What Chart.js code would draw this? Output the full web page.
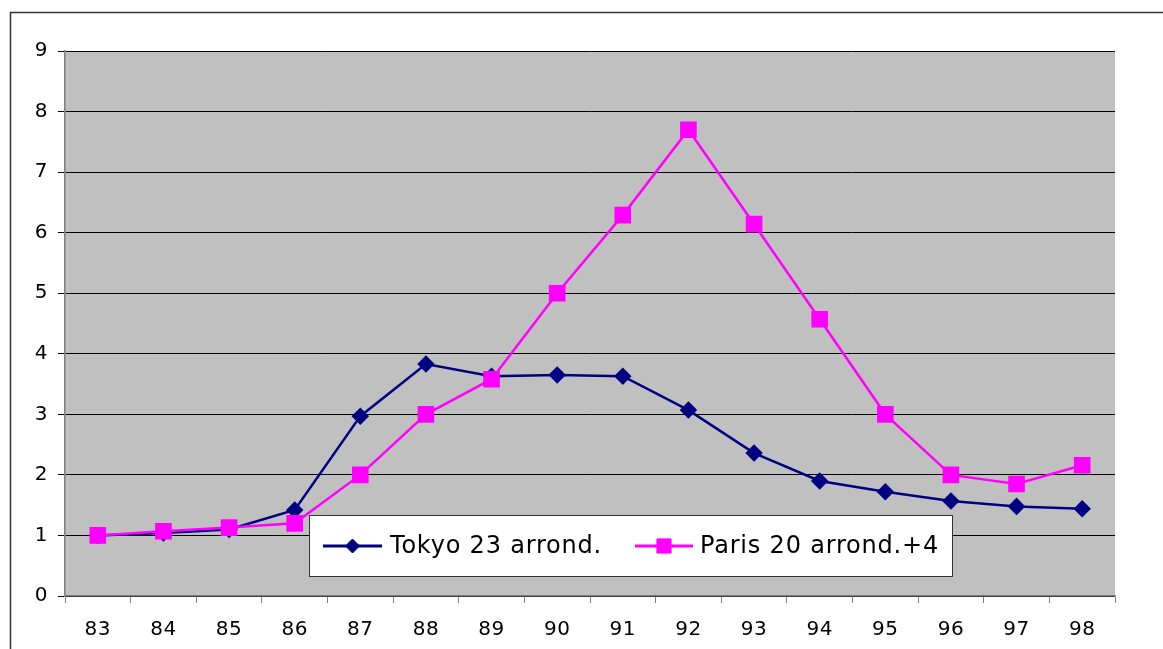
<!DOCTYPE html>
<html>
<head>
<meta charset="utf-8">
<script src="https://cdn.jsdelivr.net/npm/chart.js@4.4.1/dist/chart.umd.min.js"></script>
<style>
  html, body { margin: 0; padding: 0; background: #ffffff; }
  #wrap { width: 1163px; height: 649px; position: relative; }
  canvas { display: block; }
</style>
</head>
<body>
<div id="wrap"><canvas id="c" width="1163" height="649"></canvas></div>
<script>
const categories = ['83','84','85','86','87','88','89','90','91','92','93','94','95','96','97','98'];
const tokyoLabel = 'Tokyo 23 arrond.';
const tokyoValues = [1.00, 1.04, 1.10, 1.42, 2.97, 3.83, 3.63, 3.65, 3.63, 3.07, 2.36, 1.90, 1.72, 1.57, 1.48, 1.44];
const parisLabel = 'Paris 20 arrond.+4';
const parisValues = [1.00, 1.07, 1.13, 1.20, 2.00, 3.00, 3.58, 5.00, 6.29, 7.70, 6.14, 4.57, 3.00, 2.00, 1.85, 2.16];
const yTicks = [0,1,2,3,4,5,6,7,8,9];

const FONT = '"DejaVu Sans", Verdana, sans-serif';

const framePlugin = {
  id: 'frame',
  beforeDraw(chart) {
    const ctx = chart.ctx;
    ctx.save();
    ctx.fillStyle = '#ffffff';
    ctx.fillRect(0, 0, chart.width, chart.height);
    ctx.strokeStyle = '#333333';
    ctx.lineWidth = 1.5;
    ctx.beginPath();
    ctx.moveTo(10.5, chart.height + 5);
    ctx.lineTo(10.5, 12.5);
    ctx.lineTo(chart.width + 5, 12.5);
    ctx.stroke();
    const a = chart.chartArea;
    ctx.fillStyle = '#c0c0c0';
    ctx.fillRect(a.left, a.top, a.right - a.left, a.bottom - a.top);
    ctx.restore();
    ctx.letterSpacing = '0.5px';
  },
  afterDatasetsDraw(chart) {
    const ctx = chart.ctx;
    const x0 = 309.5, y0 = 515.5, w = 643, h = 61;
    ctx.save();
    ctx.fillStyle = '#ffffff';
    ctx.fillRect(x0, y0, w, h);
    ctx.strokeStyle = '#333333';
    ctx.lineWidth = 1;
    ctx.strokeRect(x0, y0, w, h);
    const cy = y0 + h / 2;
    const ds = chart.data.datasets;
    const items = [
      { ds: ds[0], lx: 323, rx: 382, tx: 390 },
      { ds: ds[1], lx: 635, rx: 693, tx: 700 }
    ];
    items.forEach(it => {
      ctx.strokeStyle = it.ds.borderColor;
      ctx.lineWidth = 3;
      ctx.beginPath();
      ctx.moveTo(it.lx, cy);
      ctx.lineTo(it.rx, cy);
      ctx.stroke();
      ctx.fillStyle = it.ds.pointBackgroundColor;
      ctx.strokeStyle = it.ds.pointBorderColor;
      ctx.lineWidth = 1;
      Chart.helpers.drawPoint(ctx, {
        pointStyle: it.ds.pointStyle,
        radius: it.ds.pointRadius,
        rotation: 0,
        borderWidth: 1
      }, (it.lx + it.rx) / 2, cy);
      ctx.fillStyle = '#000000';
      ctx.font = '24px ' + FONT;
      ctx.textBaseline = 'middle';
      ctx.textAlign = 'left';
      ctx.letterSpacing = '0.8px';
      ctx.fillText(it.ds.label, it.tx, cy + 1);
    });
    ctx.restore();
  }
};

new Chart(document.getElementById('c'), {
  type: 'line',
  data: {
    labels: categories,
    datasets: [
      {
        label: tokyoLabel,
        data: tokyoValues,
        borderColor: '#000080',
        backgroundColor: '#000080',
        pointBackgroundColor: '#000080',
        pointBorderColor: '#000080',
        pointStyle: 'rectRot',
        pointRadius: 7,
        borderWidth: 2.5,
        tension: 0,
        order: 2
      },
      {
        label: parisLabel,
        data: parisValues,
        borderColor: '#ff00ff',
        backgroundColor: '#ff00ff',
        pointBackgroundColor: '#ff00ff',
        pointBorderColor: '#ff00ff',
        pointStyle: 'rect',
        pointRadius: 10,
        borderWidth: 2.5,
        tension: 0,
        order: 1
      }
    ]
  },
  options: {
    responsive: false,
    animation: false,
    devicePixelRatio: 1,
    layout: { padding: { left: 0, top: 51, right: 48, bottom: 0 } },
    plugins: {
      legend: { display: false },
      tooltip: { enabled: false },
      title: { display: false }
    },
    scales: {
      x: {
        type: 'category',
        offset: true,
        grid: {
          display: true,
          offset: true,
          drawOnChartArea: false,
          drawTicks: true,
          tickLength: 7,
          color: '#808080',
          lineWidth: 1
        },
        border: { display: true, color: '#808080', width: 1.5 },
        ticks: {
          color: '#000000',
          font: { family: FONT, size: 20 },
          padding: 15,
          maxRotation: 0,
          autoSkip: false
        },
        afterFit(scale) { scale.height = 53; }
      },
      y: {
        min: 0,
        max: 9,
        afterBuildTicks(scale) { scale.ticks = yTicks.map(v => ({ value: v })); },
        grid: {
          display: true,
          drawOnChartArea: true,
          drawTicks: true,
          tickLength: 7,
          color: '#000000',
          lineWidth: 1
        },
        border: { display: true, color: '#808080', width: 1.5 },
        ticks: {
          color: '#000000',
          font: { family: FONT, size: 20 },
          padding: 10
        },
        afterFit(scale) { scale.width = 65; }
      }
    }
  },
  plugins: [framePlugin]
});
</script>
</body>
</html>
